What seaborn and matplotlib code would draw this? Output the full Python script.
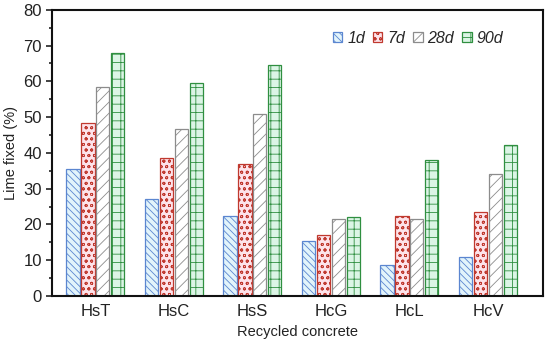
import matplotlib

matplotlib.use("Agg")
import matplotlib.pyplot as plt
import numpy as np
import pandas as pd
import seaborn as sns
from matplotlib.patches import Patch
from matplotlib.ticker import MultipleLocator

concretes = ["HsT", "HsC", "HsS", "HcG", "HcL", "HcV"]
ages = ["1d", "7d", "28d", "90d"]
lime_1d = [35.6, 27.0, 22.4, 15.4, 8.7, 10.9]
lime_7d = [48.3, 38.6, 36.8, 17.1, 22.4, 23.6]
lime_28d = [58.5, 46.8, 51.0, 21.6, 21.6, 34.0]
lime_90d = [68.0, 59.5, 64.5, 22.2, 37.9, 42.3]

edge_colors = ["#5b86d0", "#c0392f", "#8c8c8c", "#2f8f40"]
hatch_colors = ["#4a90d0", "#e8606a", "#8c8c8c", "#2f8f40"]
fill_colors = ["#e2f4fb", "#fde3ea", "#ffffff", "#dcf5e6"]
hatches = ["\\\\\\\\\\", "ooo", "///", "++"]

df = pd.DataFrame({
    "concrete": np.repeat(concretes, len(ages)),
    "age": ages * len(concretes),
    "lime": np.column_stack([lime_1d, lime_7d, lime_28d, lime_90d]).ravel(),
})

sns.set_theme(style="ticks")
plt.rcParams["font.family"] = ["Liberation Sans", "DejaVu Sans"]
plt.rcParams["hatch.linewidth"] = 0.6


def style_patch(p, i):
    p.set_facecolor(fill_colors[i])
    p.set_edgecolor(edge_colors[i])
    p.set_hatch(hatches[i])
    p.set_linewidth(0.9)
    if hasattr(p, "set_hatchcolor"):
        p.set_hatchcolor(hatch_colors[i])


fig, ax = plt.subplots(figsize=(5.5, 3.49), dpi=100)
sns.barplot(data=df, x="concrete", y="lime", hue="age", hue_order=ages,
            palette=fill_colors, width=0.76, gap=0.12, ax=ax, legend=False)

for i, cont in enumerate(ax.containers):
    for bar in cont:
        style_patch(bar, i)

ax.set_ylim(0, 80)
ax.set_xlim(-0.55, 5.7)
ax.yaxis.set_major_locator(MultipleLocator(10))
ax.yaxis.set_minor_locator(MultipleLocator(5))
ax.tick_params(axis="y", which="major", length=4, width=1.2, labelsize=12,
               colors="#222222")
ax.tick_params(axis="y", which="minor", length=2.5, width=1.2, colors="#222222")
ax.tick_params(axis="x", length=0, labelsize=12, pad=6, colors="#222222")
for s in ax.spines.values():
    s.set_visible(True)
    s.set_linewidth(1.5)
    s.set_color("#111111")

ax.set_xlabel("Recycled concrete", fontsize=10.5, color="#222222")
ax.set_ylabel("Lime fixed (%)", fontsize=10.5, color="#222222")

handles = []
for i, a in enumerate(ages):
    h = Patch(label=a)
    style_patch(h, i)
    handles.append(h)
ax.legend(handles=handles, loc="upper right", ncol=4, frameon=False,
          bbox_to_anchor=(0.935, 0.955), borderpad=0, handlelength=0.6,
          handleheight=0.6, handletextpad=0.3, columnspacing=0.5,
          prop={"style": "italic", "size": 11.5})

fig.subplots_adjust(left=0.095, right=0.987, top=0.972, bottom=0.152)
fig.savefig("out.png", dpi=100)
